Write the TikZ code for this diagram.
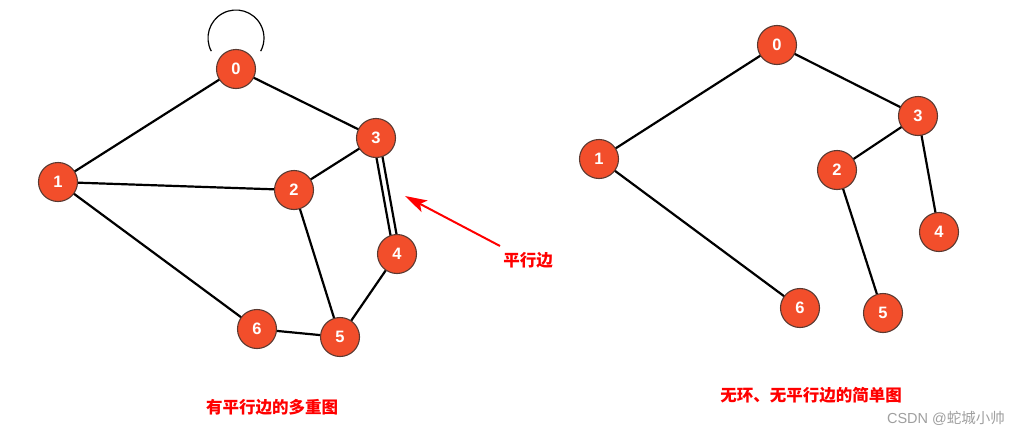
\documentclass[tikz,border=0pt]{standalone}
\usepackage{fontspec}
\setmainfont{Liberation Sans}
\newfontfamily\cjk{Noto Sans CJK SC}
\usetikzlibrary{arrows.meta}
\definecolor{nodered}{HTML}{F24E2B}
\definecolor{noderim}{HTML}{5A3A32}
\definecolor{labelred}{HTML}{FF0000}
\begin{document}
\begin{tikzpicture}[x=1pt,y=-1pt,
  vtx/.style={circle,fill=nodered,draw=noderim,line width=1.1pt,minimum size=39pt,inner sep=0pt,
    text=white,font=\fontsize{16.5}{16.5}\selectfont\bfseries},
  edge/.style={line width=2.2pt,black},
  lbl/.style={text=labelred,font=\cjk\fontsize{16.5}{17}\selectfont\bfseries}]
\useasboundingbox (0,0) rectangle (1030,439);
\fill[white] (0,0) rectangle (1030,439);
% left graph (coordinates first, nodes drawn on top of edges)
\coordinate (c0) at (236,69);
\coordinate (c1) at (58,182);
\coordinate (c2) at (294,190);
\coordinate (c3) at (376,138);
\coordinate (c4) at (397,254);
\coordinate (c5) at (340,337);
\coordinate (c6) at (257,329);
\draw[edge] (c0) -- (c1);
\draw[edge] (c0) -- (c3);
\draw[edge] (c1) -- (c2);
\draw[edge] (c1) -- (c6);
\draw[edge] (c2) -- (c3);
\draw[edge] (c2) -- (c5);
\draw[edge] (c6) -- (c5);
\draw[edge] (c5) -- (c4);
\draw[edge,transform canvas={xshift=-3.2pt,yshift=0.6pt}] (c3) -- (c4);
\draw[edge,transform canvas={xshift=3.2pt,yshift=-0.6pt}] (c3) -- (c4);
\coordinate (loopc) at (236,38);
\draw[line width=1.2pt,black] (loopc) ++(152:28) arc[start angle=152,end angle=388,radius=28];
\node[vtx] (l0) at (c0) {0};
\node[vtx] (l1) at (c1) {1};
\node[vtx] (l2) at (c2) {2};
\node[vtx] (l3) at (c3) {3};
\node[vtx] (l4) at (c4) {4};
\node[vtx] (l5) at (c5) {5};
\node[vtx] (l6) at (c6) {6};
% arrow and labels
\node[lbl] (pl) at (528,260) {平行边};
\coordinate (ptip) at (405,196);
\coordinate (ptail) at (500,246);
\draw[labelred,line width=2pt,-{Stealth[length=22pt,width=13pt,inset=5pt]}] (ptail) -- (ptip);
\node[lbl] (cap1) at (272,407) {有平行边的多重图};
% right graph
\coordinate (d0) at (777,45);
\coordinate (d1) at (599,159);
\coordinate (d2) at (837,170);
\coordinate (d3) at (918,116);
\coordinate (d4) at (939,232);
\coordinate (d5) at (883,313);
\coordinate (d6) at (800,308);
\draw[edge] (d0) -- (d1);
\draw[edge] (d0) -- (d3);
\draw[edge] (d3) -- (d2);
\draw[edge] (d3) -- (d4);
\draw[edge] (d2) -- (d5);
\draw[edge] (d1) -- (d6);
\node[vtx] (r0) at (d0) {0};
\node[vtx] (r1) at (d1) {1};
\node[vtx] (r2) at (d2) {2};
\node[vtx] (r3) at (d3) {3};
\node[vtx] (r4) at (d4) {4};
\node[vtx] (r5) at (d5) {5};
\node[vtx] (r6) at (d6) {6};
\node[lbl] (cap2) at (811,395) {无环、无平行边的简单图};
\node[text=gray!75,font=\fontsize{14.5}{15}\selectfont] (wm) at (946,418) {CSDN @{\cjk 蛇城小帅}};
\end{tikzpicture}
\end{document}
